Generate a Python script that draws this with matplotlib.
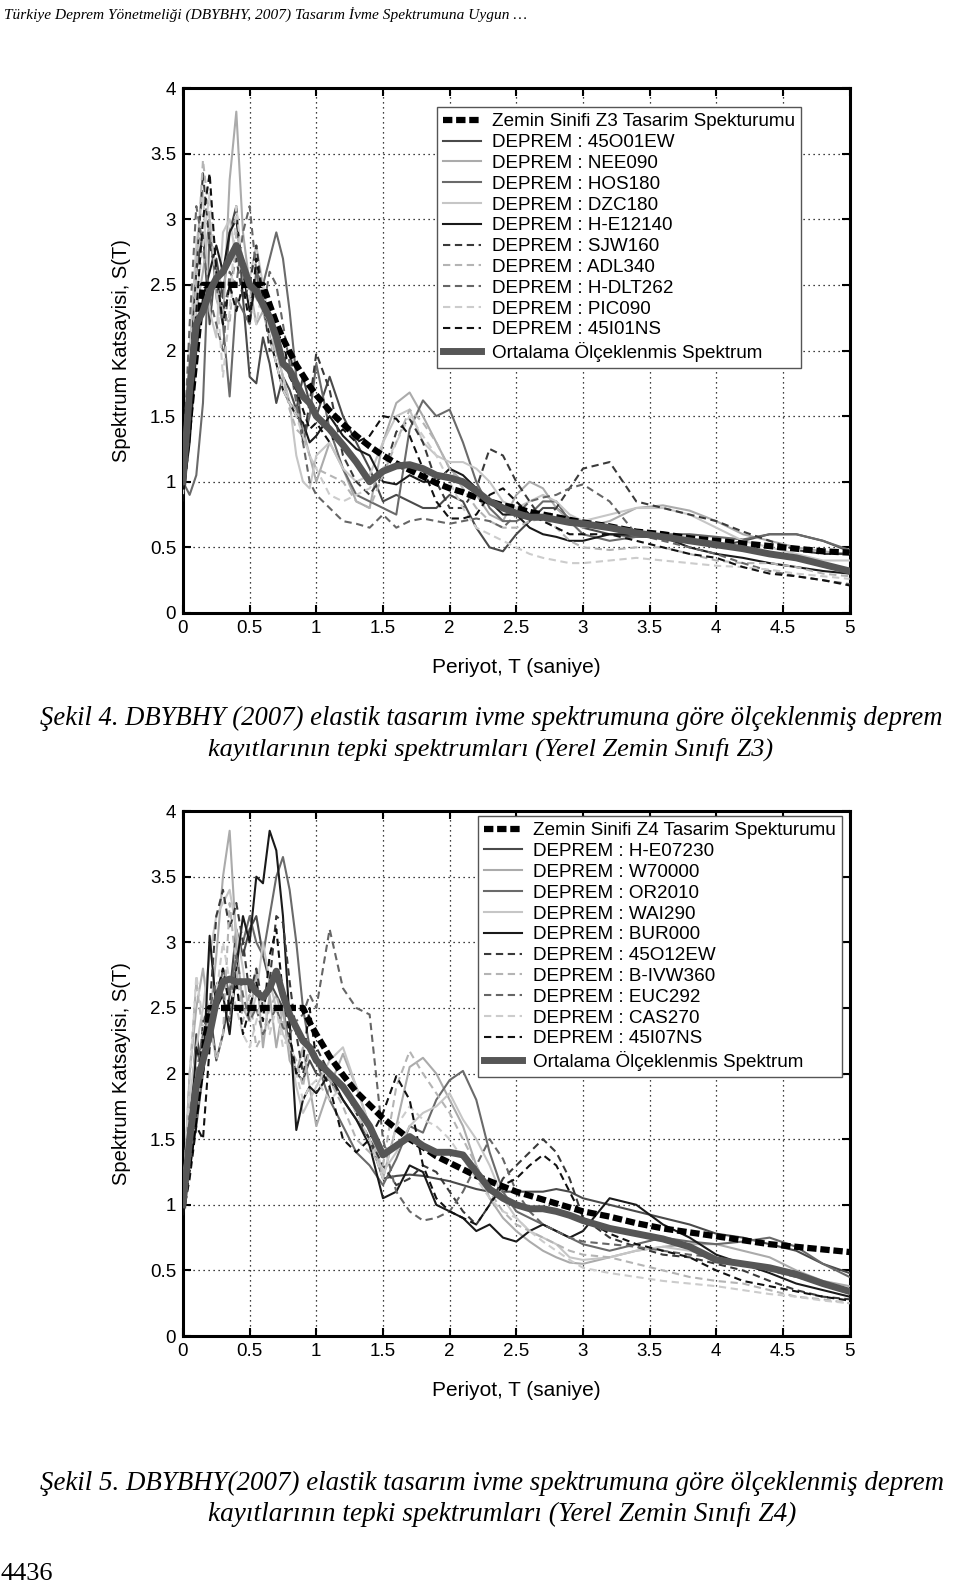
import matplotlib
matplotlib.use("Agg")
import matplotlib.pyplot as plt

plt.rcParams['font.family'] = ['Liberation Sans', 'DejaVu Sans']

# ---------------- data ----------------
T = [0, 0.05, 0.1, 0.15, 0.2, 0.25, 0.3, 0.35, 0.4, 0.45, 0.5, 0.55, 0.6, 0.65, 0.7,
     0.75, 0.8, 0.85, 0.9, 0.95, 1.0, 1.1, 1.2, 1.3, 1.4, 1.5, 1.6, 1.7, 1.8, 1.9,
     2.0, 2.1, 2.2, 2.3, 2.4, 2.5, 2.6, 2.7, 2.8, 2.9, 3.0, 3.2, 3.4, 3.6, 3.8,
     4.0, 4.2, 4.4, 4.6, 4.8, 5.0]

design_z3 = [1.0, 1.5, 2.0, 2.5, 2.5, 2.5, 2.5, 2.5, 2.5, 2.5, 2.5, 2.5, 2.5, 2.35, 2.21,
             2.09, 1.99, 1.89, 1.81, 1.73, 1.66, 1.54, 1.44, 1.35, 1.27, 1.20, 1.14, 1.09, 1.04, 0.99,
             0.95, 0.92, 0.88, 0.85, 0.82, 0.80, 0.77, 0.75, 0.73, 0.71, 0.69, 0.66, 0.62, 0.60, 0.57,
             0.55, 0.53, 0.51, 0.49, 0.47, 0.46]
design_z4 = [1.0, 1.375, 1.75, 2.125, 2.5, 2.5, 2.5, 2.5, 2.5, 2.5, 2.5, 2.5, 2.5, 2.5, 2.5,
             2.5, 2.5, 2.5, 2.5, 2.39, 2.30, 2.13, 1.99, 1.86, 1.76, 1.66, 1.58, 1.50, 1.44, 1.37,
             1.32, 1.27, 1.22, 1.18, 1.14, 1.10, 1.07, 1.04, 1.01, 0.98, 0.95, 0.91, 0.86, 0.82, 0.79,
             0.76, 0.73, 0.70, 0.68, 0.66, 0.64]

mean_z3 = [1.0, 1.7, 2.2, 2.3, 2.45, 2.55, 2.6, 2.7, 2.8, 2.65, 2.5, 2.45, 2.35, 2.25, 2.1,
           1.9, 1.85, 1.75, 1.65, 1.6, 1.5, 1.4, 1.28, 1.15, 1.0, 1.08, 1.12, 1.13, 1.1, 1.05,
           1.03, 1.0, 0.93, 0.85, 0.8, 0.76, 0.73, 0.73, 0.71, 0.69, 0.68, 0.65, 0.61, 0.58, 0.55,
           0.52, 0.49, 0.45, 0.42, 0.37, 0.32]
mean_z4 = [1.0, 1.5, 1.9, 2.1, 2.3, 2.55, 2.7, 2.72, 2.7, 2.7, 2.7, 2.62, 2.58, 2.65, 2.78,
           2.6, 2.45, 2.35, 2.25, 2.2, 2.1, 2.0, 1.9, 1.75, 1.6, 1.38, 1.45, 1.52, 1.45, 1.4,
           1.4, 1.38, 1.25, 1.12, 1.05, 1.0, 0.97, 0.97, 0.95, 0.92, 0.88, 0.82, 0.78, 0.74, 0.68,
           0.58, 0.55, 0.52, 0.47, 0.40, 0.34]

names_z3 = ['45O01EW', 'NEE090', 'HOS180', 'DZC180', 'H-E12140',
            'SJW160', 'ADL340', 'H-DLT262', 'PIC090', '45I01NS']
records_z3 = [
    [1.0, 1.9, 2.6, 2.9, 2.2, 2.7, 2.4, 2.9, 3.1, 2.4, 1.8, 1.75, 2.1, 1.9, 1.6, 1.8, 1.7, 1.55, 1.8, 1.6,
     1.5, 1.8, 1.5, 1.3, 1.1, 0.85, 0.9, 0.85, 0.8, 0.8, 0.9, 0.85, 0.65, 0.5, 0.47, 0.6, 0.7, 0.8, 0.8, 0.72,
     0.65, 0.6, 0.58, 0.58, 0.55, 0.5, 0.55, 0.6, 0.6, 0.55, 0.47],
    [0.95, 1.6, 2.3, 2.6, 3.0, 2.4, 2.2, 3.3, 3.82, 2.9, 2.5, 2.2, 2.3, 2.1, 2.0, 1.8, 1.6, 1.55, 1.4, 1.2,
     1.0, 1.3, 1.1, 0.85, 0.8, 1.3, 1.6, 1.68, 1.5, 1.3, 1.1, 1.0, 0.9, 0.75, 0.7, 0.9, 1.0, 0.95, 0.8, 0.7,
     0.65, 0.7, 0.8, 0.82, 0.78, 0.7, 0.6, 0.55, 0.5, 0.47, 0.45],
    [1.0, 0.9, 1.05, 1.6, 2.9, 2.5, 2.2, 1.65, 2.4, 2.3, 2.2, 2.6, 2.5, 2.7, 2.9, 2.7, 2.3, 1.8, 1.3, 1.5,
     1.9, 1.4, 1.1, 0.9, 0.85, 0.8, 0.75, 1.4, 1.62, 1.5, 1.55, 1.3, 1.0, 0.8, 0.7, 0.7, 0.75, 0.85, 0.85, 0.7,
     0.6, 0.55, 0.58, 0.6, 0.6, 0.58, 0.56, 0.6, 0.6, 0.55, 0.48],
    [1.05, 2.0, 2.8, 3.2, 2.3, 2.1, 2.9, 3.0, 2.7, 2.6, 2.55, 2.8, 2.5, 2.2, 2.0, 1.8, 1.6, 1.2, 1.0, 0.95,
     1.2, 1.3, 1.1, 1.0, 1.05, 1.3, 1.5, 1.55, 1.3, 1.2, 1.15, 1.15, 1.1, 1.0, 0.85, 0.8, 0.85, 0.9, 0.85, 0.75,
     0.7, 0.75, 0.8, 0.8, 0.75, 0.65, 0.55, 0.5, 0.45, 0.4, 0.4],
    [0.9, 1.3, 2.0, 2.4, 2.6, 2.8, 2.6, 2.9, 3.0, 2.6, 2.3, 2.5, 2.4, 2.1, 1.9, 1.7, 1.6, 1.5, 1.45, 1.3,
     1.35, 1.5, 1.35, 1.25, 1.2, 1.0, 0.98, 1.05, 1.0, 1.0, 1.1, 1.05, 0.95, 0.85, 0.75, 0.75, 0.65, 0.6, 0.58, 0.55,
     0.55, 0.6, 0.6, 0.58, 0.5, 0.45, 0.42, 0.38, 0.35, 0.32, 0.3],
    [1.0, 1.8, 2.6, 3.35, 2.8, 2.6, 2.3, 2.5, 2.7, 2.4, 2.5, 2.8, 2.4, 2.0, 2.0, 1.9, 2.0, 1.7, 1.3, 1.6,
     1.98, 1.7, 1.2, 1.0, 0.9, 1.05, 1.38, 1.48, 1.3, 1.0, 0.8, 0.8, 0.95, 1.25, 1.2, 1.0, 0.85, 0.7, 0.8, 0.95,
     1.1, 1.15, 0.85, 0.8, 0.75, 0.7, 0.62, 0.55, 0.48, 0.45, 0.45],
    [0.95, 1.5, 2.6, 3.45, 3.0, 2.5, 2.3, 2.2, 2.9, 2.7, 2.5, 2.4, 2.3, 2.2, 2.0, 1.8, 1.55, 1.4, 1.35, 1.2,
     1.1, 1.05, 1.0, 0.85, 0.8, 1.05, 1.3, 1.55, 1.45, 1.3, 1.1, 0.95, 0.8, 0.7, 0.65, 0.65, 0.7, 0.72, 0.65, 0.55,
     0.5, 0.48, 0.5, 0.5, 0.45, 0.4, 0.38, 0.38, 0.35, 0.3, 0.28],
    [1.1, 2.2, 3.1, 2.8, 2.4, 2.2, 2.0, 2.6, 2.5, 2.9, 3.1, 2.6, 2.3, 2.6, 2.5, 2.2, 1.9, 1.6, 1.3, 1.0,
     0.9, 0.8, 0.7, 0.68, 0.65, 0.75, 0.65, 0.7, 0.72, 0.7, 0.68, 0.7, 0.72, 0.7, 0.65, 0.75, 0.85, 0.88, 0.9, 0.95,
     0.98, 0.85, 0.6, 0.55, 0.5, 0.45, 0.38, 0.32, 0.28, 0.25, 0.22],
    [0.9, 1.6, 2.4, 2.8, 3.2, 2.5, 1.8, 2.3, 3.1, 2.6, 2.4, 2.2, 2.5, 2.1, 1.9, 1.7, 1.6, 1.5, 1.35, 1.2,
     1.1, 0.9, 0.85, 0.9, 0.95, 1.1, 1.3, 1.5, 1.35, 1.2, 1.0, 0.8, 0.65, 0.6, 0.55, 0.5, 0.45, 0.42, 0.4, 0.38,
     0.38, 0.4, 0.42, 0.4, 0.38, 0.36, 0.35, 0.33, 0.3, 0.28, 0.26],
    [0.85, 1.5, 2.3, 3.0, 3.35, 2.6, 2.2, 2.5, 2.3, 2.5, 2.2, 2.7, 2.4, 2.3, 2.1, 2.1, 1.8, 1.7, 1.55, 1.4,
     1.45, 1.3, 1.4, 1.3, 1.35, 1.5, 1.48, 1.35, 1.1, 0.85, 0.72, 0.72, 0.75, 0.9, 0.95, 0.85, 0.75, 0.7, 0.65, 0.6,
     0.6, 0.6, 0.55, 0.5, 0.45, 0.42, 0.35, 0.3, 0.28, 0.25, 0.21],
]

names_z4 = ['H-E07230', 'W70000', 'OR2010', 'WAI290', 'BUR000',
            '45O12EW', 'B-IVW360', 'EUC292', 'CAS270', '45I07NS']
records_z4 = [
    [1.0, 1.6, 2.3, 2.0, 2.5, 2.1, 2.3, 2.6, 3.1, 2.9, 3.1, 3.2, 2.9, 2.7, 2.6, 2.5, 2.2, 2.0, 1.95, 2.1,
     2.0, 1.95, 1.8, 1.65, 1.5, 1.2, 1.22, 1.23, 1.22, 1.2, 1.18, 1.15, 1.12, 1.1, 1.1, 1.1, 1.1, 1.1, 1.12, 1.1,
     1.05, 1.0, 0.95, 0.9, 0.85, 0.78, 0.75, 0.7, 0.65, 0.55, 0.48],
    [1.0, 2.0, 2.5, 2.8, 2.4, 2.9, 3.5, 3.85, 3.0, 2.5, 2.4, 2.8, 2.2, 2.6, 2.2, 2.5, 2.1, 2.0, 2.2, 1.9,
     1.6, 1.9, 2.15, 1.9, 1.6, 1.2, 1.6, 2.05, 2.12, 2.0, 1.8, 1.6, 1.3, 1.05, 0.9, 0.8, 0.72, 0.65, 0.6, 0.56,
     0.55, 0.6, 0.65, 0.68, 0.7, 0.7, 0.65, 0.6, 0.5, 0.42, 0.38],
    [0.95, 1.3, 1.6, 2.0, 2.4, 2.5, 2.8, 2.6, 2.9, 3.0, 3.2, 3.0, 2.9, 3.2, 3.5, 3.65, 3.4, 3.0, 2.5, 2.2,
     2.1, 1.8, 1.6, 1.4, 1.3, 1.15, 1.35, 1.6, 1.55, 1.8, 1.95, 2.02, 1.8, 1.4, 1.1, 0.95, 0.9, 0.85, 0.8, 0.75,
     0.7, 0.65, 0.7, 0.75, 0.72, 0.7, 0.72, 0.75, 0.68, 0.55, 0.45],
    [1.1, 1.8, 2.2, 2.5, 2.9, 3.2, 3.3, 3.4, 3.1, 2.8, 2.4, 2.6, 3.0, 2.7, 2.5, 2.3, 2.2, 1.9, 1.7, 1.8,
     1.9, 2.1, 2.2, 1.9, 1.6, 1.25, 1.4, 1.6, 1.7, 1.75, 1.85, 1.65, 1.5, 1.3, 1.05, 0.9, 0.8, 0.75, 0.7, 0.6,
     0.58, 0.6, 0.65, 0.68, 0.65, 0.6, 0.55, 0.5, 0.45, 0.4, 0.35],
    [1.0, 1.4, 2.2, 2.0, 3.05, 2.5, 2.6, 2.3, 2.8, 3.2, 3.0, 3.5, 3.45, 3.85, 3.7, 3.2, 2.4, 1.57, 1.8, 1.9,
     1.85, 2.0, 1.8, 1.65, 1.45, 1.05, 1.1, 1.3, 1.25, 1.0, 0.95, 0.9, 0.8, 0.85, 0.75, 0.72, 0.8, 0.85, 0.8, 0.75,
     0.8, 1.05, 1.0, 0.85, 0.75, 0.62, 0.55, 0.48, 0.4, 0.35, 0.3],
    [0.95, 1.3, 1.7, 2.4, 2.5, 3.2, 3.4, 3.1, 3.3, 3.0, 2.6, 2.8, 2.5, 2.7, 3.2, 3.15, 2.7, 2.3, 2.0, 2.2,
     2.2, 2.0, 1.9, 1.7, 1.5, 1.3, 1.15, 1.2, 1.3, 1.25, 1.1, 0.95, 0.85, 1.0, 1.2, 1.3, 1.4, 1.5, 1.4, 1.2,
     0.9, 0.75, 0.68, 0.62, 0.6, 0.55, 0.5, 0.42, 0.35, 0.3, 0.28],
    [1.0, 2.0, 2.7, 2.3, 2.4, 2.1, 2.3, 3.3, 2.8, 2.4, 2.6, 2.2, 2.3, 2.5, 2.6, 2.4, 2.2, 2.1, 1.9, 2.2,
     2.1, 1.95, 1.75, 1.5, 1.4, 1.3, 1.9, 2.17, 2.0, 1.85, 1.7, 1.5, 1.3, 1.1, 0.95, 0.85, 0.8, 0.75, 0.7, 0.65,
     0.62, 0.6, 0.55, 0.5, 0.45, 0.42, 0.4, 0.35, 0.3, 0.28, 0.25],
    [1.1, 1.7, 2.0, 2.3, 2.5, 2.7, 2.6, 2.4, 2.9, 2.6, 2.4, 2.5, 2.3, 2.4, 2.5, 2.35, 2.3, 2.4, 2.45, 2.6,
     2.5, 3.1, 2.65, 2.5, 2.45, 1.5, 1.1, 0.95, 0.88, 0.9, 0.95, 1.1, 1.3, 1.5, 1.35, 1.1, 0.95, 0.85, 0.8, 0.75,
     0.72, 0.7, 0.68, 0.65, 0.62, 0.6, 0.55, 0.5, 0.45, 0.4, 0.35],
    [1.05, 1.9, 2.75, 2.4, 2.2, 2.6, 3.0, 2.7, 2.5, 2.3, 2.2, 2.4, 2.6, 2.3, 2.5, 2.2, 2.3, 2.0, 1.8, 1.9,
     1.95, 1.8, 1.9, 1.7, 1.5, 1.2, 1.6, 1.75, 1.65, 1.6, 1.5, 1.35, 1.2, 1.05, 0.95, 0.9, 0.8, 0.72, 0.65, 0.58,
     0.52, 0.48, 0.45, 0.42, 0.4, 0.38, 0.35, 0.32, 0.3, 0.27, 0.25],
    [0.92, 1.2, 1.6, 1.5, 2.2, 2.6, 2.8, 2.5, 2.7, 2.3, 2.5, 2.7, 2.4, 2.9, 3.1, 2.6, 2.3, 2.0, 2.1, 2.5,
     2.1, 1.9, 1.5, 1.4, 1.5, 1.7, 1.98, 1.8, 1.3, 1.05, 0.95, 0.9, 0.85, 1.0, 1.15, 1.2, 1.3, 1.38, 1.3, 1.1,
     0.9, 0.78, 0.7, 0.65, 0.6, 0.5, 0.42, 0.38, 0.34, 0.3, 0.27],
]

x_ticks = [0, 0.5, 1, 1.5, 2, 2.5, 3, 3.5, 4, 4.5, 5]
x_ticklabels = ['0', '0.5', '1', '1.5', '2', '2.5', '3', '3.5', '4', '4.5', '5']
y_ticks = [0, 0.5, 1, 1.5, 2, 2.5, 3, 3.5, 4]
y_ticklabels = ['0', '0.5', '1', '1.5', '2', '2.5', '3', '3.5', '4']

# ---------------- styles ----------------
rec_styles = [
    dict(color='#4a4a4a', ls='-'),
    dict(color='#ababab', ls='-'),
    dict(color='#6a6a6a', ls='-'),
    dict(color='#c6c6c6', ls='-'),
    dict(color='#1a1a1a', ls='-'),
    dict(color='#3a3a3a', ls=(0, (3.5, 2.2))),
    dict(color='#b4b4b4', ls=(0, (3.5, 2.2))),
    dict(color='#666666', ls=(0, (3.5, 2.2))),
    dict(color='#cccccc', ls=(0, (3.5, 2.2))),
    dict(color='#111111', ls=(0, (3.5, 2.2))),
]

fig = plt.figure(figsize=(9.6, 15.86), dpi=100)

def draw_panel(rect, design, mean, names, records, zone, leg_anchor):
    ax = fig.add_axes(rect)
    handles = []
    h, = ax.plot(T, design, color='black', lw=4.5, ls=(0, (1.5, 0.6)),
                 dash_capstyle='butt', zorder=4,
                 label='Zemin Sinifi %s Tasarim Spekturumu' % zone)
    for nm, vals, st in zip(names, records, rec_styles):
        hh, = ax.plot(T, vals, color=st['color'], ls=st['ls'], lw=1.5, zorder=3,
                      label='DEPREM : %s' % nm)
        handles.append(hh)
    hm, = ax.plot(T, mean, color='#565656', lw=5, zorder=5,
                  solid_joinstyle='round', label='Ortalama Ölçeklenmis Spektrum')
    all_h = [h] + handles + [hm]
    ax.set_xlim(0, 5)
    ax.set_ylim(0, 4)
    ax.set_xticks(x_ticks)
    ax.set_xticklabels(x_ticklabels)
    ax.set_yticks(y_ticks)
    ax.set_yticklabels(y_ticklabels)
    ax.tick_params(direction='in', length=6, width=1.5, top=True, right=True,
                   labelsize=13.5, pad=5)
    ax.grid(True, color='black', ls=(0, (1, 3)), lw=0.9)
    for sp in ax.spines.values():
        sp.set_linewidth(2.2)
    ax.set_xlabel('Periyot, T (saniye)', fontsize=15)
    ax.set_ylabel('Spektrum Katsayisi, S(T)', fontsize=14.5)
    ax.xaxis.set_label_coords(0.5, -0.086)
    ax.yaxis.set_label_coords(-0.078, 0.5)
    leg = fig.legend(handles=all_h, loc='upper left', bbox_to_anchor=leg_anchor,
                     bbox_transform=fig.transFigure, fontsize=13.6, frameon=True,
                     fancybox=False, edgecolor='#555555', framealpha=1,
                     handlelength=2.0, handletextpad=0.6, labelspacing=0.19,
                     borderpad=0.32, borderaxespad=0)
    leg.get_frame().set_linewidth(1.0)
    return ax

draw_panel([0.1906, 0.6135, 0.6944, 0.331], design_z3, mean_z3, names_z3, records_z3,
           'Z3', (0.455, 0.9325))
draw_panel([0.1906, 0.1576, 0.6944, 0.331], design_z4, mean_z4, names_z4, records_z4,
           'Z4', (0.498, 0.4855))

serif = ['Liberation Serif', 'DejaVu Serif']
fig.text(0.004, 1 - 14 / 1586, 'Türkiye Deprem Yönetmeliği (DBYBHY, 2007) Tasarım İvme Spektrumuna Uygun …',
         family=serif, style='italic', fontsize=11.1, ha='left', va='center')
fig.text(0.042, 1 - 718 / 1586,
         'Şekil 4. DBYBHY (2007) elastik tasarım ivme spektrumuna göre ölçeklenmiş deprem',
         family=serif, style='italic', fontsize=19.2, ha='left', va='center')
fig.text(0.2165, 1 - 749 / 1586, 'kayıtlarının tepki spektrumları (Yerel Zemin Sınıfı Z3)',
         family=serif, style='italic', fontsize=18.9, ha='left', va='center')
fig.text(0.042, 1 - 1483 / 1586,
         'Şekil 5. DBYBHY(2007) elastik tasarım ivme spektrumuna göre ölçeklenmiş deprem',
         family=serif, style='italic', fontsize=19.4, ha='left', va='center')
fig.text(0.2165, 1 - 1514 / 1586, 'kayıtlarının tepki spektrumları (Yerel Zemin Sınıfı Z4)',
         family=serif, style='italic', fontsize=19.6, ha='left', va='center')
fig.text(0.001, 1 - 1574 / 1586, '4436', family=serif, fontsize=19, ha='left', va='center')

fig.savefig('out.png', dpi=100)
